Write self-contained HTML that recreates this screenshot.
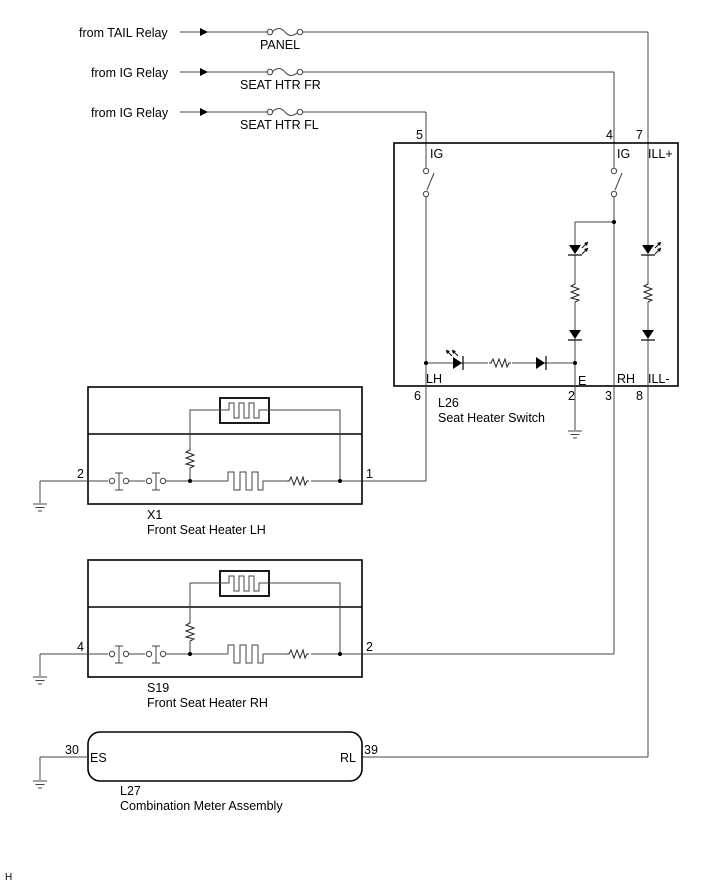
<!DOCTYPE html>
<html><head><meta charset="utf-8"><style>
html,body{margin:0;padding:0;background:#fff;}
svg{display:block;}
text{font-family:"Liberation Sans",Arial,sans-serif;font-size:12.5px;fill:#000;}
</style></head><body>
<svg width="713" height="882" viewBox="0 0 713 882" xmlns="http://www.w3.org/2000/svg">
<defs>
<g id="gnd" stroke="#444" stroke-width="1" fill="none">
<line x1="-7" y1="0" x2="7" y2="0"/><line x1="-4.5" y1="3.5" x2="4.5" y2="3.5"/><line x1="-2" y1="7" x2="2" y2="7"/>
</g>
<g id="resv" stroke="#222" stroke-width="1" fill="none"><polyline points="0,0 0,2 -4,4 4,7 -4,10 4,13 -4,16 4,18 0,20"/></g>
<g id="resh" stroke="#222" stroke-width="1" fill="none"><polyline points="0,0 2,0 4,-4 7,4 10,-4 13,4 16,-4 18,4 20,0 22,0"/></g>
<g id="led">
<polygon points="-6,0 6,0 0,9" fill="#000"/><line x1="-7" y1="10" x2="7" y2="10" stroke="#000" stroke-width="1.2"/>
<g stroke="#000" stroke-width="0.9"><line x1="7" y1="3" x2="13" y2="-3"/><line x1="7" y1="9" x2="13" y2="3"/></g>
<polygon points="13,-3 9,-2 12,1" fill="#000"/><polygon points="13,3 9,4 12,7" fill="#000"/>
</g>
<g id="dio"><polygon points="-6,0 6,0 0,9" fill="#000"/><line x1="-7" y1="10" x2="7" y2="10" stroke="#000" stroke-width="1.2"/></g>
<g id="heater">
<rect x="88" y="387" width="274" height="117" fill="none" stroke="#000" stroke-width="1.6"/>
<line x1="88" y1="434" x2="362" y2="434" stroke="#000" stroke-width="1.6"/>
<rect x="220" y="398" width="49" height="25" fill="none" stroke="#000" stroke-width="1.8"/>
<g stroke="#444" stroke-width="1" fill="none">
<polyline points="190,481 190,468"/>
<polyline points="190,448 190,410 220,410"/>
<polyline points="269,410 340,410 340,481"/>
<polyline points="220,410 229,410 229,403 234,403 234,418 239,418 239,403 244,403 244,418 249,418 249,403 254,403 254,418 259,418 259,410 269,410"/>
<line x1="40" y1="481" x2="108" y2="481"/>
<line x1="40" y1="481" x2="40" y2="503"/>
<line x1="129" y1="481" x2="145" y2="481"/>
<line x1="166" y1="481" x2="228" y2="481"/>
<polyline points="228,481 228,472 234,472 234,490 240,490 240,472 246,472 246,490 252,490 252,472 258,472 258,490 263,490 263,481 287,481"/>
<line x1="311" y1="481" x2="362" y2="481"/>
<circle cx="112" cy="481" r="2.7" fill="#fff"/><circle cx="126" cy="481" r="2.7" fill="#fff"/>
<circle cx="149" cy="481" r="2.7" fill="#fff"/><circle cx="163" cy="481" r="2.7" fill="#fff"/>
<line x1="119" y1="473" x2="119" y2="490"/><line x1="115" y1="473" x2="123" y2="473"/><line x1="115" y1="490" x2="123" y2="490"/>
<line x1="156" y1="473" x2="156" y2="490"/><line x1="152" y1="473" x2="160" y2="473"/><line x1="152" y1="490" x2="160" y2="490"/>
</g>
<use href="#resv" x="190" y="448"/>
<use href="#resh" x="287" y="481"/>
<circle cx="190" cy="481" r="2" fill="#000"/><circle cx="340" cy="481" r="2" fill="#000"/>
<use href="#gnd" x="40" y="504"/>
</g>
</defs>

<g stroke="#444" stroke-width="1" fill="none">
<line x1="180" y1="32" x2="268" y2="32"/><line x1="302" y1="32" x2="648" y2="32"/><line x1="648" y1="32" x2="648" y2="245"/>
<line x1="180" y1="72" x2="268" y2="72"/><line x1="302" y1="72" x2="614" y2="72"/><line x1="614" y1="72" x2="614" y2="168"/>
<line x1="180" y1="112" x2="268" y2="112"/><line x1="302" y1="112" x2="426" y2="112"/><line x1="426" y1="112" x2="426" y2="168"/>
<path d="M272,32 q7,-7 13,0 t13,0"/><path d="M272,72 q7,-7 13,0 t13,0"/><path d="M272,112 q7,-7 13,0 t13,0"/>
</g>
<g fill="#fff" stroke="#444"><circle cx="270" cy="32" r="2.7"/><circle cx="300" cy="32" r="2.7"/><circle cx="270" cy="72" r="2.7"/><circle cx="300" cy="72" r="2.7"/><circle cx="270" cy="112" r="2.7"/><circle cx="300" cy="112" r="2.7"/></g>
<g fill="#000"><polygon points="200,28 208,32 200,36"/><polygon points="200,68 208,72 200,76"/><polygon points="200,108 208,112 200,116"/></g>
<text x="79" y="37">from TAIL Relay</text>
<text x="91" y="77">from IG Relay</text>
<text x="91" y="117">from IG Relay</text>
<text x="260" y="49">PANEL</text>
<text x="240" y="89">SEAT HTR FR</text>
<text x="240" y="129">SEAT HTR FL</text>

<rect x="394" y="143" width="284" height="243" fill="none" stroke="#000" stroke-width="1.6"/>
<g stroke="#444" stroke-width="1" fill="none">
<line x1="426" y1="196" x2="426" y2="481"/>
<line x1="434" y1="173" x2="427" y2="190"/>
<line x1="622" y1="173" x2="615" y2="190"/>
<line x1="614" y1="196" x2="614" y2="654"/>
<line x1="362" y1="654" x2="614" y2="654"/>
<line x1="362" y1="481" x2="426" y2="481"/>
<polyline points="614,222 575,222 575,245"/>
<line x1="575" y1="255" x2="575" y2="282"/>
<line x1="575" y1="302" x2="575" y2="330"/>
<line x1="575" y1="339" x2="575" y2="430"/>
<line x1="426" y1="363" x2="575" y2="363"/>
<line x1="648" y1="255" x2="648" y2="282"/>
<line x1="648" y1="302" x2="648" y2="330"/>
<line x1="648" y1="339" x2="648" y2="757"/>
<line x1="362" y1="757" x2="648" y2="757"/>
</g>
<g fill="#fff" stroke="#444"><circle cx="426" cy="171" r="2.7"/><circle cx="426" cy="194" r="2.7"/><circle cx="614" cy="171" r="2.7"/><circle cx="614" cy="194" r="2.7"/></g>
<circle cx="614" cy="222" r="2" fill="#000"/>
<circle cx="426" cy="363" r="2" fill="#000"/><circle cx="575" cy="363" r="2" fill="#000"/>
<use href="#led" x="575" y="245"/><use href="#resv" x="575" y="282"/><use href="#dio" x="575" y="330"/>
<use href="#led" x="648" y="245"/><use href="#resv" x="648" y="282"/><use href="#dio" x="648" y="330"/>
<g transform="translate(453,363) rotate(-90)"><polygon points="-6,0 6,0 0,9" fill="#000"/><line x1="-7" y1="10" x2="7" y2="10" stroke="#000" stroke-width="1.2"/></g>
<g stroke="#000" stroke-width="0.9"><line x1="452" y1="356" x2="446" y2="350"/><line x1="458" y1="356" x2="452" y2="350"/></g>
<polygon points="446,350 447,354 450,351" fill="#000"/><polygon points="452,350 453,354 456,351" fill="#000"/>
<rect x="488" y="358" width="24" height="10" fill="#fff"/>
<use href="#resh" x="489" y="363"/>
<g transform="translate(536,363) rotate(-90)"><polygon points="-6,0 6,0 0,9" fill="#000"/><line x1="-7" y1="10" x2="7" y2="10" stroke="#000" stroke-width="1.2"/></g>
<use href="#gnd" x="575" y="431"/>
<text x="416" y="139">5</text><text x="606" y="139">4</text><text x="636" y="139">7</text>
<text x="430" y="158">IG</text><text x="617" y="158">IG</text><text x="648" y="158">ILL+</text>
<text x="426" y="383">LH</text><text x="578" y="385">E</text><text x="617" y="383">RH</text><text x="648" y="383">ILL-</text>
<text x="414" y="400">6</text><text x="568" y="400">2</text><text x="605" y="400">3</text><text x="636" y="400">8</text>
<text x="438" y="407">L26</text><text x="438" y="422">Seat Heater Switch</text>

<use href="#heater"/>
<text x="77" y="478">2</text><text x="366" y="478">1</text>
<text x="147" y="519">X1</text><text x="147" y="534">Front Seat Heater LH</text>
<use href="#heater" y="173"/>
<text x="77" y="651">4</text><text x="366" y="651">2</text>
<text x="147" y="692">S19</text><text x="147" y="707">Front Seat Heater RH</text>

<rect x="88" y="732" width="274" height="49" rx="12" fill="none" stroke="#000" stroke-width="1.6"/>
<g stroke="#444" fill="none"><line x1="40" y1="757" x2="88" y2="757"/><line x1="40" y1="757" x2="40" y2="780"/></g>
<use href="#gnd" x="40" y="781"/>
<text x="65" y="754">30</text><text x="90" y="762">ES</text>
<text x="340" y="762">RL</text><text x="364" y="754">39</text>
<text x="120" y="795">L27</text><text x="120" y="810">Combination Meter Assembly</text>
<text x="5" y="880" style="font-size:10px">H</text>
</svg>
</body></html>
